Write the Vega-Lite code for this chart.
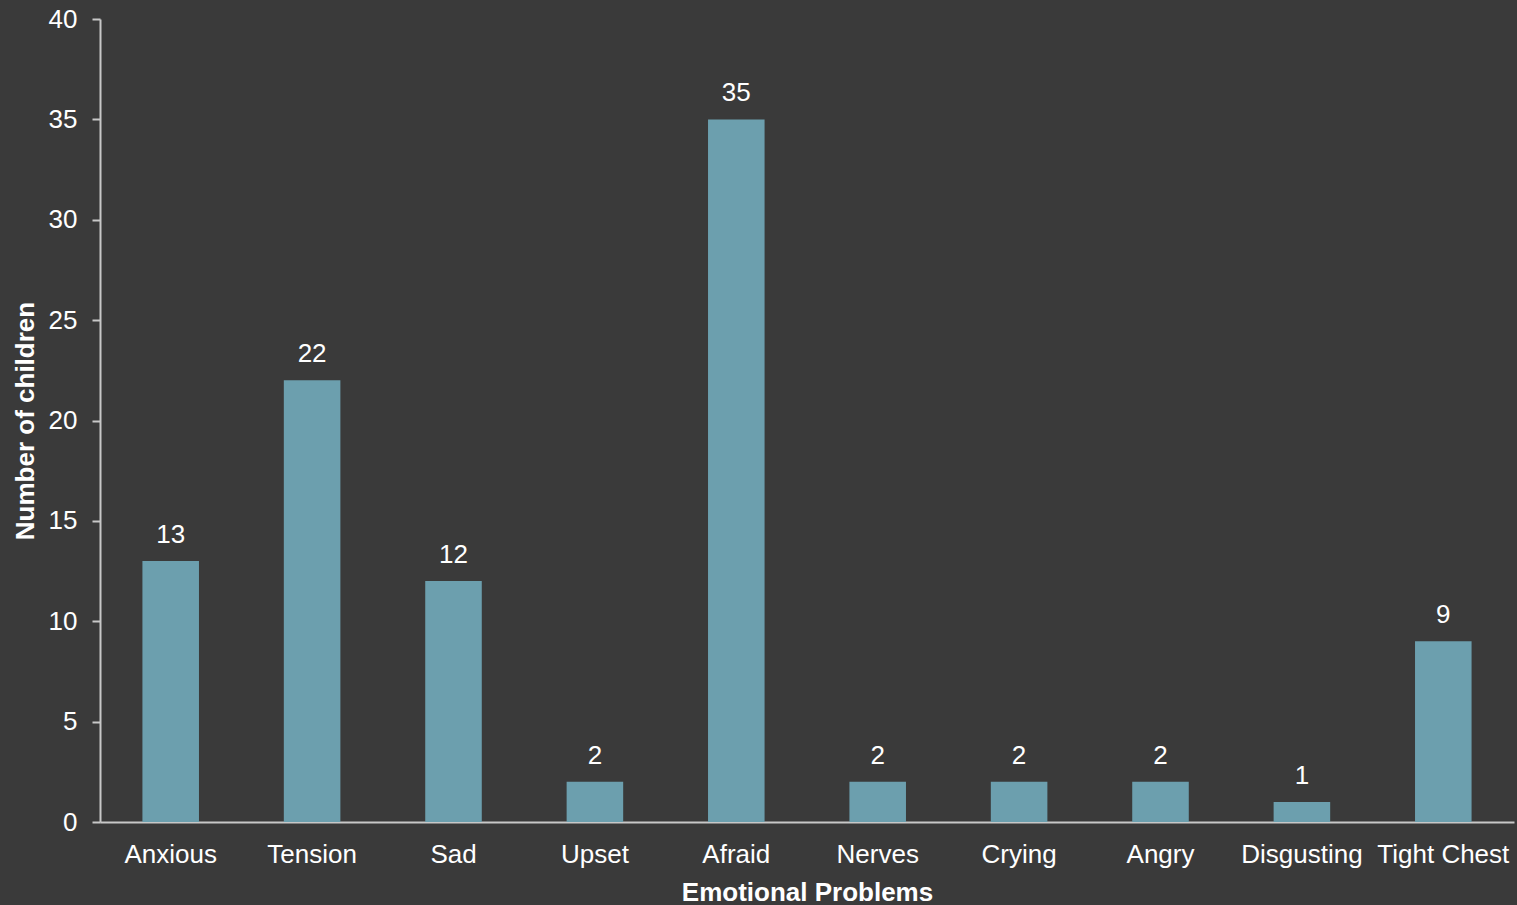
{
  "$schema": "https://vega.github.io/schema/vega-lite/v6.json",
  "width": 1414,
  "height": 803,
  "autosize": {"type": "none"},
  "padding": {"left": 100, "top": 19, "right": 3, "bottom": 83},
  "background": "#3a3a3a",
  "config": {
    "view": {"stroke": null},
    "font": "Liberation Sans"
  },
  "data": {
    "values": [
      {"problem": "Anxious", "count": 13},
      {"problem": "Tension", "count": 22},
      {"problem": "Sad", "count": 12},
      {"problem": "Upset", "count": 2},
      {"problem": "Afraid", "count": 35},
      {"problem": "Nerves", "count": 2},
      {"problem": "Crying", "count": 2},
      {"problem": "Angry", "count": 2},
      {"problem": "Disgusting", "count": 1},
      {"problem": "Tight Chest", "count": 9}
    ]
  },
  "encoding": {
    "x": {
      "field": "problem",
      "type": "nominal",
      "sort": null,
      "scale": {"paddingInner": 0.6, "paddingOuter": 0.3},
      "axis": {
        "title": "Emotional Problems",
        "titleFont": "Liberation Sans",
        "titleFontSize": 26,
        "titleFontWeight": "bold",
        "titleColor": "#ffffff",
        "titlePadding": 12,
        "labelAngle": 0,
        "labelFontSize": 26,
        "labelColor": "#ffffff",
        "labelPadding": 19,
        "ticks": false,
        "domainColor": "#c8c8c8",
        "domainWidth": 2,
        "grid": false
      }
    },
    "y": {
      "field": "count",
      "type": "quantitative",
      "scale": {"domain": [0, 40], "nice": false},
      "axis": {
        "title": "Number of children",
        "titleFont": "Liberation Sans",
        "titleFontSize": 26,
        "titleFontWeight": "bold",
        "titleColor": "#ffffff",
        "titlePadding": 10,
        "values": [0, 5, 10, 15, 20, 25, 30, 35, 40],
        "labelFontSize": 26,
        "labelColor": "#ffffff",
        "labelPadding": 15,
        "tickSize": 8,
        "tickColor": "#c8c8c8",
        "tickWidth": 2,
        "domainColor": "#c8c8c8",
        "domainWidth": 2,
        "grid": false
      }
    }
  },
  "layer": [
    {"mark": {"type": "bar", "color": "#6c9fae"}},
    {
      "mark": {"type": "text", "baseline": "bottom", "dy": -13, "fontSize": 26, "color": "#ffffff"},
      "encoding": {"text": {"field": "count", "type": "quantitative"}}
    }
  ]
}
